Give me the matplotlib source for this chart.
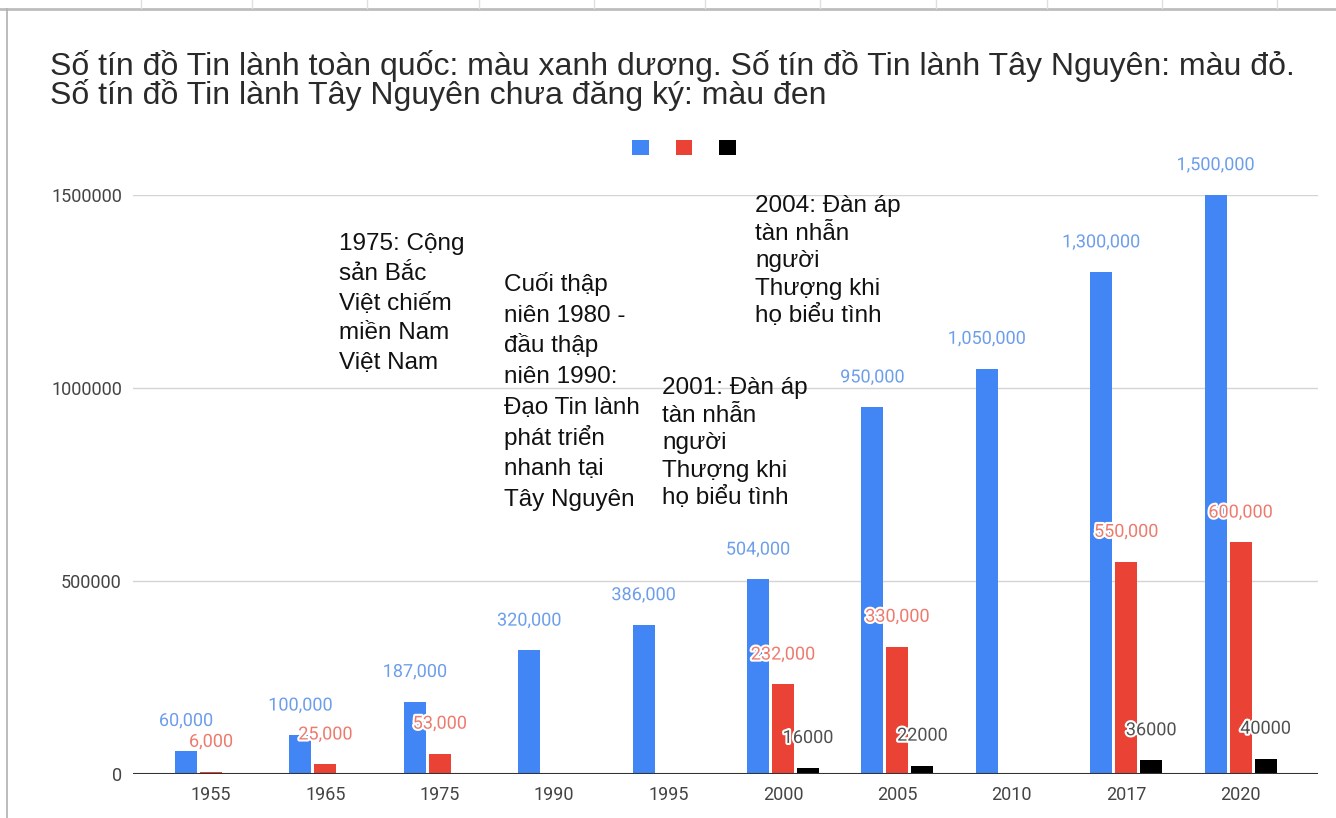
import numpy as np
import matplotlib.pyplot as plt
import matplotlib.patheffects as pe

# data
years = ["1955", "1965", "1975", "1990", "1995", "2000", "2005", "2010", "2017", "2020"]
toan_quoc = [60000, 100000, 187000, 320000, 386000, 504000, 950000, 1050000, 1300000, 1500000]
tay_nguyen = [6000, 25000, 53000, None, None, 232000, 330000, None, 550000, 600000]
chua_dang_ky = [None, None, None, None, None, 16000, 22000, None, 36000, 40000]

title_lines = ["Số tín đồ Tin lành toàn quốc: màu xanh dương. Số tín đồ Tin lành Tây Nguyên: màu đỏ.",
               "Số tín đồ Tin lành Tây Nguyên chưa đăng ký: màu đen"]
notes = [
    ["1975: Cộng", "sản Bắc", "Việt chiếm", "miền Nam", "Việt Nam"],
    ["Cuối thập", "niên 1980 -", "đầu thập", "niên 1990:", "Đạo Tin lành", "phát triển", "nhanh tại", "Tây Nguyên"],
    ["2001: Đàn áp", "tàn nhẫn", "người", "Thượng khi", "họ biểu tình"],
    ["2004: Đàn áp", "tàn nhẫn", "người", "Thượng khi", "họ biểu tình"],
]

W, H = 1336, 818
BLUE, RED, BLACK = "#4285f4", "#ea4335", "#000000"

def fx(x):
    return x / W

def fy(y):
    return 1 - y / H

fig = plt.figure(figsize=(W / 100, H / 100), dpi=100)
ax = fig.add_axes([fx(133), fy(774), (1318 - 133) / W, (774 - 195) / H])

x = np.arange(len(years))
off, bw = 0.2185, 0.192
halo = [pe.withStroke(linewidth=3, foreground="white")]

series = [(toan_quoc, -off, BLUE, "#6d9eeb", True),
          (tay_nguyen, 0, RED, "#ee7a6e", True),
          (chua_dang_ky, off, BLACK, "#505050", False)]
handles = []
for vals, o, col, tcol, commas in series:
    xs = [xi + o for xi, v in zip(x, vals) if v is not None]
    vs = [v for v in vals if v is not None]
    b = ax.bar(xs, vs, width=bw, color=col, zorder=3)
    handles.append(b)
    for xi, v in zip(xs, vs):
        txt = f"{v:,}" if commas else str(v)
        ax.annotate(txt, (xi, v), xytext=(0, 21.5), textcoords="offset points",
                    ha="center", va="center", fontsize=13, family="Roboto",
                    color=tcol, path_effects=halo, zorder=5, annotation_clip=False)

ax.set_xlim(-0.682, 9.677)
ax.set_ylim(0, 1500000)
ax.set_yticks([0, 500000, 1000000, 1500000])
ax.set_yticklabels(["0", "500000", "1000000", "1500000"])
ax.set_xticks(x)
ax.set_xticklabels(years)
ax.tick_params(length=0, labelsize=13, labelcolor="#444444")
ax.tick_params(axis="y", pad=8)
ax.tick_params(axis="x", pad=9)
for lab in ax.get_xticklabels() + ax.get_yticklabels():
    lab.set_family("Roboto")
ax.grid(axis="y", color="#d4d4d4", lw=1, zorder=0)
ax.axhline(0, color="#333333", lw=1.5, zorder=4)
for s in ax.spines.values():
    s.set_visible(False)

# legend: three squares, no labels
leg = fig.legend(handles, ["", "", ""], loc="center", ncol=3,
                 bbox_to_anchor=(fx(684), fy(148)), frameon=False,
                 handlelength=1, handleheight=1, handletextpad=0,
                 columnspacing=1.62, fontsize=12)

# title
for i, line in enumerate(title_lines):
    fig.text(fx(50), fy(75 + i * 29), line, fontsize=23, family="Liberation Sans",
             color="#2a2a2a", va="baseline")

# annotation text boxes: (left px, first baseline px, line step px)
note_pos = [(339, 250, 29.8), (504, 291, 30.7), (662, 394, 27.5), (755, 212, 27.5)]
for lines, (nx, ny, step) in zip(notes, note_pos):
    for i, line in enumerate(lines):
        fig.text(fx(nx), fy(ny + i * step), line, fontsize=17.5,
                 family="Liberation Sans", color="#111111", va="baseline")

# spreadsheet frame behind the chart
fig.add_artist(plt.Line2D([0, 1], [fy(9), fy(9)], color="#bdbdbd", lw=2))
fig.add_artist(plt.Line2D([fx(7), fx(7)], [0, fy(9)], color="#b0b0b0", lw=1.2))
for cx in [141, 252, 367, 479, 594, 705, 820, 936, 1047, 1162, 1277]:
    fig.add_artist(plt.Line2D([fx(cx), fx(cx)], [fy(0), fy(8)], color="#e0e0e0", lw=1))

fig.savefig("out.png", dpi=100)
